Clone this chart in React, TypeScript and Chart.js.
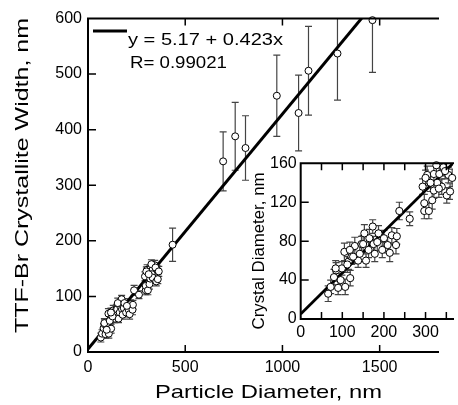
import React, { useEffect, useRef } from "react";
import { Chart, registerables } from "chart.js";
Chart.register(...registerables);

// ---- Data ----
const INTERCEPT = 5.17;
const SLOPE = 0.423;
const R_VALUE = "0.99021";

// small-particle cluster (shown in the inset and the lower-left of the main plot)
const clusterX = [66, 72, 80, 90, 85, 99, 107, 119, 105, 115, 122, 130, 138, 142, 146, 150, 157, 163, 165, 173, 175, 178, 184, 196, 209, 214, 219, 229, 231, 237, 262, 96, 84, 112, 126, 118, 153, 187, 200, 297, 297, 293, 308, 316, 320, 304, 320, 333, 339, 343, 355, 328, 332, 351, 359, 300, 312, 326, 347, 364];
const clusterY = [26, 33, 43, 32, 50, 52, 33, 42, 69, 59, 64, 75, 60, 67, 77, 77, 60, 71, 83, 95, 77, 67, 79, 71, 76, 68, 86, 76, 85, 111, 103, 40, 52, 56, 64, 71, 88, 88, 83, 111, 119, 136, 111, 122, 132, 148, 149, 149, 136, 156, 148, 140, 134, 127, 131, 145, 140, 158, 152, 145];
const clusterErr = [8, 7, 8, 7, 8, 7, 8, 8, 9, 8, 8, 9, 7, 8, 8, 9, 7, 8, 9, 7, 8, 8, 9, 8, 8, 9, 8, 9, 8, 9, 7, 7, 8, 8, 7, 8, 9, 8, 8, 8, 9, 8, 8, 9, 8, 9, 8, 9, 8, 9, 8, 8, 9, 8, 8, 8, 9, 8, 8, 9];

// large particles (main plot only)
const largeX = [435, 695, 757, 810, 971, 1083, 1134, 1283, 1463];
const largeY = [193, 343, 388, 367, 461, 430, 506, 537, 597];
const largeErr = [30, 53, 61, 58, 73, 68, 80, 84, 94];

// axes
const MAIN_X_MAX = 1800;
const MAIN_Y_MAX = 600;
const mainXTicks = [0, 500, 1000, 1500];
const mainYTicks = [0, 100, 200, 300, 400, 500, 600];
const INSET_X_MAX = 366;
const INSET_Y_MAX = 160;
const insetXMinorTicks = [50, 100, 150, 200, 250, 300, 350];
const insetXTicks = [0, 100, 200, 300];
const insetYTicks = [0, 40, 80, 120, 160];

const FONT = "'Liberation Sans', Arial, Helvetica, sans-serif";

// ---- Plugins ----
const errorBarPlugin = {
  id: "errorBars",
  beforeDatasetsDraw(chart: any, _a: any, opts: any) {
    const { ctx, chartArea, scales } = chart;
    const ys = scales.y;
    ctx.save();
    ctx.beginPath();
    ctx.rect(chartArea.left, chartArea.top, chartArea.right - chartArea.left, chartArea.bottom - chartArea.top);
    ctx.clip();
    ctx.strokeStyle = opts.color || "#444";
    ctx.lineWidth = opts.width || 1.2;
    const cap = opts.cap || 3.5;
    chart.data.datasets.forEach((ds: any, di: number) => {
      if (!ds.errors) return;
      const meta = chart.getDatasetMeta(di);
      meta.data.forEach((el: any, i: number) => {
        const v = ds.data[i].y;
        const e = ds.errors[i];
        const x = el.x;
        const yt = ys.getPixelForValue(v + e);
        const yb = ys.getPixelForValue(v - e);
        ctx.beginPath();
        ctx.moveTo(x, yt);
        ctx.lineTo(x, yb);
        ctx.moveTo(x - cap, yt);
        ctx.lineTo(x + cap, yt);
        ctx.moveTo(x - cap, yb);
        ctx.lineTo(x + cap, yb);
        ctx.stroke();
      });
    });
    ctx.restore();
  },
};

const framePlugin = {
  id: "frame",
  afterDraw(chart: any, _a: any, opts: any) {
    const { ctx, chartArea, scales } = chart;
    const { left, right, top, bottom } = chartArea;
    ctx.save();
    ctx.strokeStyle = "#000";
    ctx.lineWidth = opts.lineWidth || 2;
    ctx.lineCap = "square";
    ctx.beginPath();
    ctx.moveTo(left, top);
    ctx.lineTo(right, top);
    ctx.moveTo(left, top);
    ctx.lineTo(left, bottom);
    ctx.lineTo(right, bottom);
    ctx.stroke();
    ctx.lineWidth = opts.tickWidth || 1.5;
    ctx.lineCap = "butt";
    ctx.beginPath();
    (opts.xTicks || []).forEach((v: number) => {
      const x = scales.x.getPixelForValue(v);
      ctx.moveTo(x, bottom);
      ctx.lineTo(x, bottom - opts.xLen);
      ctx.moveTo(x, top);
      ctx.lineTo(x, top + opts.xLen);
    });
    (opts.yTicks || []).forEach((v: number) => {
      const y = scales.y.getPixelForValue(v);
      ctx.moveTo(left, y);
      ctx.lineTo(left + opts.yLen, y);
    });
    ctx.stroke();
    ctx.restore();
  },
};

const textPlugin = {
  id: "texts",
  afterDraw(chart: any, _a: any, opts: any) {
    const { ctx } = chart;
    (opts.items || []).forEach((it: any) => {
      ctx.save();
      ctx.font = it.font;
      ctx.fillStyle = "#000";
      ctx.textBaseline = "alphabetic";
      ctx.textAlign = it.align || "left";
      const w = ctx.measureText(it.text).width;
      const sx = it.width ? it.width / w : 1;
      ctx.translate(it.x, it.y);
      if (it.rot) ctx.rotate(it.rot);
      ctx.scale(sx, 1);
      ctx.fillText(it.text, 0, 0);
      ctx.restore();
    });
    (opts.lines || []).forEach((ln: any) => {
      ctx.save();
      ctx.strokeStyle = "#000";
      ctx.lineWidth = ln.width;
      ctx.beginPath();
      ctx.moveTo(ln.x1, ln.y);
      ctx.lineTo(ln.x2, ln.y);
      ctx.stroke();
      ctx.restore();
    });
  },
};

const setTicks = (values: number[]) => (s: any) => {
  s.ticks = values.map((value) => ({ value }));
};

export default function App() {
  const mainRef = useRef<HTMLCanvasElement>(null);
  const insetRef = useRef<HTMLCanvasElement>(null);

  useEffect(() => {
    const mainPts = [
      ...clusterX.map((x, i) => ({ x, y: clusterY[i] })),
      ...largeX.map((x, i) => ({ x, y: largeY[i] })),
    ];
    const mainErr = [...clusterErr, ...largeErr];
    const tickFont = { family: FONT, size: 16 };
    const plain = (v: any) => String(v);

    const main = new Chart(mainRef.current as HTMLCanvasElement, {
      type: "scatter",
      data: {
        datasets: [
          {
            data: mainPts,
            errors: mainErr,
            pointRadius: 3.5,
            pointBackgroundColor: "#fff",
            pointBorderColor: "#000",
            pointBorderWidth: 1,
            clip: false,
          } as any,
          {
            type: "line",
            data: [
              { x: 0, y: INTERCEPT },
              { x: MAIN_X_MAX, y: INTERCEPT + SLOPE * MAIN_X_MAX },
            ],
            borderColor: "#000",
            borderWidth: 3,
            pointRadius: 0,
          } as any,
        ],
      },
      options: {
        responsive: false,
        animation: false,
        devicePixelRatio: 1,
        layout: { padding: { top: 18.5, right: 20, left: 0, bottom: 0 } },
        plugins: {
          legend: { display: false },
          tooltip: { enabled: false },
          errorBars: { color: "#444", width: 1.2, cap: 3.5 },
          frame: {
            lineWidth: 2,
            xTicks: mainXTicks.slice(1),
            yTicks: mainYTicks.slice(1, -1),
            xLen: 7,
            yLen: 8,
          },
          texts: {
            items: [
              { text: "TTF-Br Crystallite Width, nm", x: 28, y: 175.5, rot: -Math.PI / 2, align: "center", font: `19px ${FONT}`, width: 315 },
              { text: "Particle Diameter, nm", x: 268.5, y: 398, align: "center", font: `19px ${FONT}`, width: 227 },
              { text: `y = ${INTERCEPT} + ${SLOPE}x`, x: 128, y: 45, align: "left", font: `16px ${FONT}`, width: 155 },
              { text: `R= ${R_VALUE}`, x: 130, y: 67.5, align: "left", font: `16px ${FONT}`, width: 97 },
            ],
            lines: [{ x1: 93, x2: 127, y: 31, width: 3 }],
          },
        } as any,
        scales: {
          x: {
            type: "linear",
            min: 0,
            max: MAIN_X_MAX,
            afterBuildTicks: setTicks(mainXTicks),
            afterFit: (s: any) => {
              s.height = 53;
            },
            grid: { display: false, drawTicks: false },
            border: { display: false },
            ticks: { font: tickFont, color: "#000", padding: 6, maxRotation: 0, autoSkip: false, callback: plain },
          },
          y: {
            type: "linear",
            min: 0,
            max: MAIN_Y_MAX,
            afterBuildTicks: setTicks(mainYTicks),
            afterFit: (s: any) => {
              s.width = 88;
            },
            grid: { display: false, drawTicks: false },
            border: { display: false },
            ticks: { font: tickFont, color: "#000", padding: 6, autoSkip: false, callback: plain },
          },
        },
      },
      plugins: [errorBarPlugin, framePlugin, textPlugin],
    } as any);

    const inset = new Chart(insetRef.current as HTMLCanvasElement, {
      type: "scatter",
      data: {
        datasets: [
          {
            data: clusterX.map((x, i) => ({ x, y: clusterY[i] })),
            errors: clusterErr,
            pointRadius: 3.6,
            pointBackgroundColor: "#fff",
            pointBorderColor: "#000",
            pointBorderWidth: 1,
            clip: false,
          } as any,
          {
            type: "line",
            data: [
              { x: 0, y: INTERCEPT },
              { x: INSET_X_MAX, y: INTERCEPT + SLOPE * INSET_X_MAX },
            ],
            borderColor: "#000",
            borderWidth: 2.8,
            pointRadius: 0,
          } as any,
        ],
      },
      options: {
        responsive: false,
        animation: false,
        devicePixelRatio: 1,
        layout: { padding: { top: 18.3, right: 0, left: 0, bottom: 0 } },
        plugins: {
          legend: { display: false },
          tooltip: { enabled: false },
          errorBars: { color: "#444", width: 1.2, cap: 3.5 },
          frame: {
            lineWidth: 2,
            xTicks: insetXMinorTicks,
            yTicks: insetYTicks.slice(1, -1),
            xLen: 7,
            yLen: 8,
          },
          texts: {
            items: [
              { text: "Crystal Diameter, nm", x: 24, y: 106, rot: -Math.PI / 2, align: "center", font: `16px ${FONT}`, width: 157 },
            ],
          },
        } as any,
        scales: {
          x: {
            type: "linear",
            min: 0,
            max: INSET_X_MAX,
            afterBuildTicks: setTicks(insetXTicks),
            afterFit: (s: any) => {
              s.height = 86;
            },
            grid: { display: false, drawTicks: false },
            border: { display: false },
            ticks: { font: tickFont, color: "#000", padding: 4, maxRotation: 0, autoSkip: false, callback: plain },
          },
          y: {
            type: "linear",
            min: 0,
            max: INSET_Y_MAX,
            afterBuildTicks: setTicks(insetYTicks),
            afterFit: (s: any) => {
              s.width = 60.7;
            },
            grid: { display: false, drawTicks: false },
            border: { display: false },
            ticks: { font: tickFont, color: "#000", padding: 4, autoSkip: false, callback: plain },
          },
        },
      },
      plugins: [errorBarPlugin, framePlugin, textPlugin],
    } as any);

    return () => {
      main.destroy();
      inset.destroy();
    };
  }, []);

  return (
    <div style={{ position: "absolute", left: 0, top: 0, width: 458, height: 405, background: "#fff" }}>
      <canvas ref={mainRef} width={458} height={405} style={{ position: "absolute", left: 0, top: 0, width: 458, height: 405 }} />
      <canvas ref={insetRef} width={218} height={260} style={{ position: "absolute", left: 240, top: 145, width: 218, height: 260 }} />
    </div>
  );
}
